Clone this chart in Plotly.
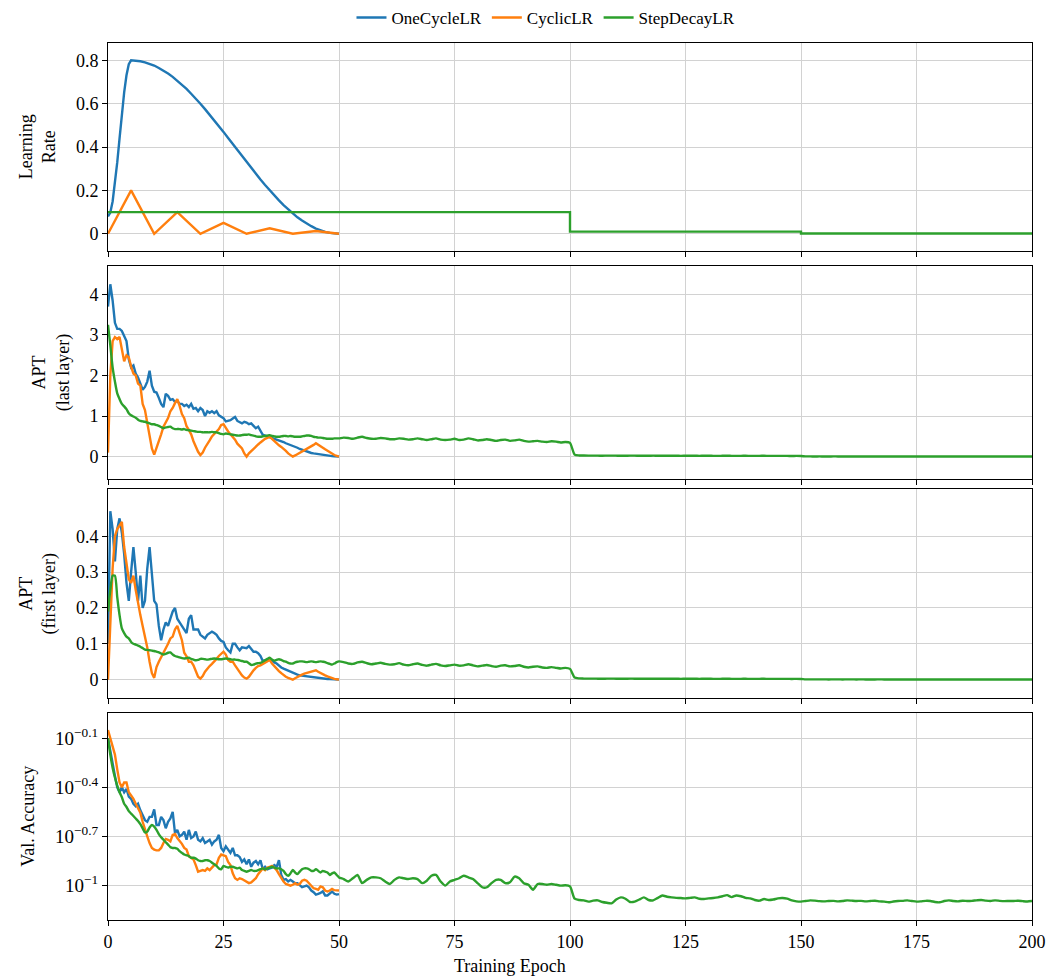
import plotly.graph_objects as go
from plotly.subplots import make_subplots

# ---------------------------------------------------------------- data
# Epoch grids: half-epoch samples for the first 50 epochs, whole epochs afterwards
half_epochs = [i * 0.5 for i in range(101)]
late_start = 51

# Learning-rate schedules
onecycle_epochs = [0, 0.5, 1, 1.5, 2, 2.5, 3, 3.5, 4, 4.5] + list(range(5, 51))
onecycle_lr = [
    0.08, 0.098, 0.149, 0.228, 0.329, 0.44, 0.551, 0.652, 0.731, 0.782,
    0.8, 0.799, 0.796, 0.791, 0.785, 0.776, 0.765, 0.753, 0.739, 0.724,
    0.706, 0.688, 0.668, 0.646, 0.624, 0.6, 0.575, 0.55, 0.524, 0.497,
    0.47, 0.442, 0.414, 0.386, 0.358, 0.331, 0.303, 0.276, 0.25, 0.225,
    0.2, 0.176, 0.154, 0.132, 0.112, 0.094, 0.076, 0.061, 0.047, 0.035,
    0.024, 0.016, 0.009, 0.004, 0.001, 0.0,
]
cyclic_epochs = [0, 5, 10, 15, 20, 25, 30, 35, 40, 45, 50]
cyclic_lr = [0.0, 0.2, 0.0, 0.1, 0.0, 0.05, 0.0, 0.025, 0.0, 0.0125, 0.0]
step_epochs = [0, 100, 100, 150, 150, 200]
step_lr = [0.1, 0.1, 0.01, 0.01, 0.001, 0.001]

# APT (last layer)
apt_last_onecycle = [
    3.7, 4.25, 3.85, 3.3, 3.15, 3.15, 3.1, 2.95, 2.85, 2.4,
    2.2, 2.25, 2.05, 1.95, 1.78, 1.65, 1.72, 1.85, 2.12, 1.75,
    1.6, 1.58, 1.45, 1.3, 1.22, 1.55, 1.5, 1.4, 1.42, 1.35,
    1.38, 1.3, 1.3, 1.25, 1.28, 1.22, 1.3, 1.18, 1.2, 1.12,
    1.2, 1.15, 1.0, 1.12, 1.08, 1.12, 1.07, 1.12, 1.02, 0.98,
    0.95, 0.87, 0.88, 0.9, 0.94, 0.98, 0.88, 0.85, 0.82, 0.86,
    0.84, 0.8, 0.82, 0.76, 0.7, 0.74, 0.62, 0.54, 0.52, 0.5,
    0.49, 0.47, 0.45, 0.43, 0.41, 0.39, 0.36, 0.33, 0.31, 0.29,
    0.27, 0.25, 0.22, 0.19, 0.17, 0.14, 0.12, 0.11, 0.09, 0.08,
    0.07, 0.06, 0.05, 0.04, 0.03, 0.025, 0.02, 0.012, 0.008, 0.004,
    0.0,
]
apt_last_cyclic = [
    0.1, 2.0, 2.85, 2.95, 2.9, 2.95, 2.65, 2.35, 2.5, 2.45,
    2.22, 2.05, 2.0, 1.8, 1.75, 1.3, 1.15, 0.86, 0.55, 0.2,
    0.05, 0.2, 0.38, 0.55, 0.74, 0.85, 0.95, 1.12, 1.2, 1.32,
    1.42, 1.25, 1.05, 0.95, 0.75, 0.66, 0.55, 0.38, 0.25, 0.12,
    0.04, 0.1, 0.22, 0.3, 0.4, 0.5, 0.55, 0.62, 0.68, 0.78,
    0.8, 0.7, 0.62, 0.55, 0.48, 0.42, 0.32, 0.25, 0.2, 0.08,
    0.0, 0.08, 0.14, 0.2, 0.25, 0.3, 0.35, 0.4, 0.44, 0.46,
    0.49, 0.44, 0.38, 0.33, 0.28, 0.24, 0.2, 0.14, 0.08, 0.03,
    0.0, 0.03, 0.06, 0.09, 0.12, 0.15, 0.18, 0.21, 0.25, 0.29,
    0.33, 0.3, 0.26, 0.22, 0.18, 0.14, 0.1, 0.07, 0.04, 0.02,
    0.0,
]
apt_last_step_early = [
    3.25, 2.75, 2.2, 1.85, 1.56, 1.42, 1.3, 1.24, 1.17, 1.07,
    1.02, 0.99, 0.96, 0.91, 0.88, 0.87, 0.86, 0.84, 0.82, 0.8,
    0.8, 0.78, 0.76, 0.73, 0.7, 0.72, 0.73, 0.74, 0.7, 0.68,
    0.68, 0.68, 0.67, 0.68, 0.66, 0.65, 0.64, 0.63, 0.62, 0.61,
    0.61, 0.6, 0.6, 0.6, 0.6, 0.61, 0.6, 0.6, 0.58, 0.56,
    0.55, 0.57, 0.56, 0.55, 0.54, 0.53, 0.52, 0.52, 0.53, 0.54,
    0.54, 0.55, 0.53, 0.52, 0.5, 0.49, 0.49, 0.5, 0.51, 0.52,
    0.53, 0.51, 0.5, 0.49, 0.49, 0.5, 0.51, 0.51, 0.5, 0.51,
    0.5, 0.49, 0.49, 0.49, 0.5, 0.51, 0.52, 0.52, 0.51, 0.49,
    0.48, 0.47, 0.47, 0.46, 0.45, 0.44, 0.44, 0.44, 0.45, 0.45,
    0.45,
]
apt_last_step_late = [
    0.47, 0.46, 0.44, 0.47, 0.49, 0.46, 0.44, 0.44, 0.46, 0.45,
    0.43, 0.43, 0.45, 0.44, 0.42, 0.43, 0.45, 0.43, 0.41, 0.43,
    0.45, 0.42, 0.41, 0.42, 0.44, 0.41, 0.42, 0.45, 0.43, 0.4,
    0.41, 0.43, 0.41, 0.39, 0.41, 0.42, 0.39, 0.4, 0.42, 0.39,
    0.37, 0.38, 0.39, 0.37, 0.36, 0.38, 0.37, 0.35, 0.36, 0.34,
    0.05, 0.03, 0.027, 0.025, 0.026, 0.024, 0.023, 0.025, 0.026, 0.024,
    0.022, 0.023, 0.025, 0.024, 0.022, 0.021, 0.023, 0.024, 0.022, 0.021,
    0.022, 0.023, 0.021, 0.02, 0.022, 0.023, 0.021, 0.02, 0.021, 0.022,
    0.02, 0.019, 0.021, 0.022, 0.02, 0.019, 0.02, 0.021, 0.019, 0.018,
    0.02, 0.021, 0.019, 0.018, 0.019, 0.02, 0.018, 0.017, 0.018, 0.016,
    0.007, 0.006, 0.005, 0.006, 0.005, 0.005, 0.006, 0.005, 0.004, 0.005,
    0.005, 0.004, 0.005, 0.005, 0.004, 0.004, 0.005, 0.004, 0.004, 0.005,
    0.004, 0.004, 0.003, 0.004, 0.004, 0.003, 0.004, 0.004, 0.003, 0.003,
    0.004, 0.003, 0.003, 0.004, 0.003, 0.003, 0.003, 0.004, 0.003, 0.003,
    0.003, 0.003, 0.002, 0.003, 0.003, 0.002, 0.003, 0.003, 0.002, 0.003,
]

# APT (first layer)
apt_first_onecycle = [
    0.1, 0.47, 0.42, 0.33, 0.42, 0.45, 0.41, 0.35, 0.27, 0.22,
    0.3, 0.37, 0.3, 0.22, 0.29, 0.2, 0.22, 0.31, 0.37, 0.3,
    0.22, 0.21, 0.15, 0.11, 0.14, 0.16, 0.15, 0.17, 0.19, 0.2,
    0.17, 0.16, 0.15, 0.14, 0.13, 0.17, 0.18, 0.14, 0.14, 0.14,
    0.125, 0.12, 0.115, 0.125, 0.13, 0.134, 0.13, 0.125, 0.115, 0.108,
    0.105, 0.09, 0.082, 0.076, 0.1, 0.1, 0.09, 0.082, 0.09, 0.088,
    0.088, 0.094, 0.085, 0.078, 0.078, 0.074, 0.066, 0.052, 0.054, 0.056,
    0.058, 0.054, 0.048, 0.045, 0.038, 0.034, 0.031, 0.028, 0.025, 0.021,
    0.018, 0.016, 0.014, 0.012, 0.011, 0.01, 0.009, 0.008, 0.007, 0.006,
    0.005, 0.005, 0.004, 0.003, 0.003, 0.002, 0.002, 0.001, 0.001, 0.0005,
    0.0,
]
apt_first_cyclic = [
    0.0, 0.15, 0.31, 0.4, 0.42, 0.43, 0.44, 0.37, 0.33, 0.28,
    0.27, 0.29, 0.25, 0.21, 0.18, 0.15, 0.12, 0.09, 0.05, 0.018,
    0.005, 0.035, 0.05, 0.062, 0.078, 0.088, 0.1, 0.115, 0.12, 0.14,
    0.15, 0.13, 0.11, 0.075, 0.065, 0.05, 0.05, 0.04, 0.022, 0.008,
    0.003, 0.01, 0.022, 0.031, 0.038, 0.044, 0.05, 0.058, 0.066, 0.072,
    0.078, 0.07, 0.055, 0.05, 0.05, 0.04, 0.03, 0.02, 0.012, 0.006,
    0.003, 0.008, 0.018, 0.026, 0.033, 0.038, 0.04, 0.044, 0.048, 0.052,
    0.055, 0.045, 0.037, 0.03, 0.024, 0.018, 0.012, 0.008, 0.005, 0.002,
    0.0, 0.004, 0.008, 0.011, 0.014, 0.017, 0.019, 0.021, 0.023, 0.025,
    0.026, 0.022, 0.018, 0.015, 0.012, 0.009, 0.006, 0.004, 0.002, 0.001,
    0.0,
]
apt_first_step_early = [
    0.19, 0.25, 0.29, 0.29, 0.23, 0.18, 0.143, 0.13, 0.12, 0.115,
    0.105, 0.1, 0.098, 0.095, 0.092, 0.088, 0.084, 0.083, 0.082, 0.081,
    0.08, 0.078, 0.076, 0.073, 0.07, 0.072, 0.075, 0.076, 0.07, 0.066,
    0.064, 0.062, 0.06, 0.059, 0.06, 0.061, 0.058, 0.056, 0.054, 0.055,
    0.058, 0.058, 0.057, 0.056, 0.057, 0.058, 0.059, 0.058, 0.057, 0.057,
    0.058, 0.059, 0.058, 0.057, 0.056, 0.056, 0.055, 0.054, 0.052, 0.05,
    0.05, 0.046, 0.041, 0.042, 0.045, 0.046, 0.047, 0.05, 0.054, 0.058,
    0.061, 0.056, 0.053, 0.055, 0.057, 0.055, 0.052, 0.05, 0.047, 0.045,
    0.045, 0.048, 0.05, 0.051, 0.051, 0.05, 0.049, 0.05, 0.051, 0.05,
    0.049, 0.05, 0.051, 0.05, 0.049, 0.046, 0.044, 0.042, 0.045, 0.049,
    0.051,
]
apt_first_step_late = [
    0.049, 0.045, 0.044, 0.048, 0.05, 0.046, 0.043, 0.045, 0.047, 0.044,
    0.042, 0.043, 0.046, 0.042, 0.04, 0.043, 0.045, 0.041, 0.039, 0.042,
    0.044, 0.04, 0.038, 0.04, 0.042, 0.039, 0.04, 0.043, 0.04, 0.037,
    0.039, 0.041, 0.038, 0.036, 0.039, 0.04, 0.037, 0.038, 0.04, 0.036,
    0.034, 0.036, 0.037, 0.034, 0.033, 0.035, 0.033, 0.031, 0.033, 0.03,
    0.006, 0.0035, 0.003, 0.0028, 0.003, 0.0027, 0.0026, 0.0028, 0.0029, 0.0027,
    0.0025, 0.0026, 0.0028, 0.0027, 0.0025, 0.0024, 0.0026, 0.0027, 0.0025, 0.0024,
    0.0025, 0.0026, 0.0024, 0.0023, 0.0025, 0.0026, 0.0024, 0.0023, 0.0024, 0.0025,
    0.0023, 0.0022, 0.0024, 0.0025, 0.0023, 0.0022, 0.0023, 0.0024, 0.0022, 0.0021,
    0.0023, 0.0024, 0.0022, 0.0021, 0.0022, 0.0023, 0.0021, 0.002, 0.0021, 0.0019,
    0.0008, 0.0007, 0.0007, 0.0008, 0.0007, 0.0006, 0.0007, 0.0007, 0.0006, 0.0007,
    0.0007, 0.0006, 0.0007, 0.0006, 0.0006, 0.0006, 0.0007, 0.0006, 0.0006, 0.0006,
    0.0006, 0.0005, 0.0006, 0.0006, 0.0005, 0.0005, 0.0006, 0.0005, 0.0005, 0.0005,
    0.0005, 0.0005, 0.0004, 0.0005, 0.0005, 0.0004, 0.0005, 0.0005, 0.0004, 0.0004,
    0.0004, 0.0005, 0.0004, 0.0004, 0.0004, 0.0004, 0.0004, 0.0003, 0.0004, 0.0004,
]

# Validation accuracy, stored as log10 exponents
val_log_onecycle = [
    -0.10, -0.18, -0.27, -0.33, -0.40, -0.43, -0.40, -0.43, -0.41, -0.456,
    -0.47, -0.50, -0.515, -0.50, -0.54, -0.575, -0.60, -0.61, -0.58, -0.58,
    -0.535, -0.63, -0.63, -0.58, -0.60, -0.65, -0.61, -0.59, -0.55, -0.68,
    -0.66, -0.70, -0.69, -0.67, -0.72, -0.66, -0.71, -0.70, -0.67, -0.72,
    -0.73, -0.71, -0.74, -0.73, -0.72, -0.75, -0.73, -0.72, -0.69, -0.77,
    -0.79, -0.76, -0.78, -0.80, -0.77, -0.815, -0.815, -0.825, -0.855, -0.84,
    -0.87, -0.84, -0.885, -0.86, -0.85, -0.87, -0.845, -0.90, -0.885, -0.90,
    -0.895, -0.89, -0.875, -0.885, -0.845, -0.935, -0.965, -0.96, -0.975, -0.965,
    -0.975, -0.985, -0.985, -0.995, -1.01, -1.005, -1.0, -1.01, -1.03, -1.04,
    -1.055, -1.05, -1.045, -1.035, -1.06, -1.06, -1.045, -1.036, -1.05, -1.055,
    -1.052,
]
val_log_cyclic = [
    -0.05, -0.10, -0.15, -0.20, -0.29, -0.37, -0.40, -0.37, -0.37, -0.43,
    -0.45, -0.47, -0.50, -0.53, -0.555, -0.61, -0.66, -0.70, -0.74, -0.77,
    -0.78, -0.785, -0.785, -0.77, -0.74, -0.715, -0.72, -0.73, -0.69, -0.685,
    -0.71, -0.725, -0.745, -0.77, -0.78, -0.82, -0.83, -0.84, -0.875, -0.915,
    -0.91, -0.905, -0.91, -0.895, -0.905, -0.89, -0.875, -0.87, -0.83, -0.81,
    -0.815, -0.82, -0.855, -0.875, -0.925, -0.955, -0.965, -0.955, -0.96, -0.97,
    -0.975, -0.985, -0.98, -0.97, -0.955, -0.93, -0.915, -0.895, -0.905, -0.89,
    -0.885, -0.88, -0.89, -0.905, -0.93, -0.955, -0.975, -0.99, -0.995, -1.0,
    -0.995, -0.985, -0.995, -0.99, -0.97, -0.965, -0.97, -0.985, -1.0, -1.016,
    -1.02, -1.025, -1.005, -1.01, -1.03, -1.036, -1.03, -1.02, -1.028, -1.03,
    -1.03,
]
val_log_step_early = [
    -0.10, -0.20, -0.28, -0.34, -0.39, -0.43, -0.46, -0.50, -0.52, -0.545,
    -0.56, -0.575, -0.59, -0.605, -0.625, -0.65, -0.675, -0.67, -0.645, -0.63,
    -0.64, -0.66, -0.685, -0.705, -0.72, -0.735, -0.75, -0.765, -0.77, -0.77,
    -0.775, -0.79, -0.80, -0.81, -0.815, -0.82, -0.83, -0.83, -0.835, -0.845,
    -0.85, -0.85, -0.845, -0.845, -0.85, -0.86, -0.87, -0.88, -0.895, -0.90,
    -0.88, -0.885, -0.89, -0.885, -0.885, -0.89, -0.895, -0.89, -0.905, -0.91,
    -0.915, -0.91, -0.905, -0.91, -0.91, -0.905, -0.90, -0.895, -0.90, -0.895,
    -0.89, -0.885, -0.89, -0.895, -0.895, -0.90, -0.91, -0.93, -0.94, -0.925,
    -0.905, -0.92, -0.93, -0.915, -0.90, -0.895, -0.895, -0.90, -0.91, -0.91,
    -0.90, -0.91, -0.92, -0.91, -0.915, -0.92, -0.935, -0.925, -0.92, -0.935,
    -0.95,
]
val_log_step_late = [
    -0.96, -0.975, -0.955, -0.935, -0.985, -0.965, -0.95, -0.95, -0.955, -0.975,
    -0.99, -0.965, -0.95, -0.955, -0.96, -0.955, -0.96, -0.985, -0.97, -0.94,
    -0.935, -0.975, -1.0, -0.975, -0.965, -0.955, -0.94, -0.95, -0.96, -0.985,
    -1.01, -1.01, -0.985, -0.965, -0.965, -0.985, -0.98, -0.945, -0.955, -0.985,
    -0.995, -1.025, -0.99, -0.99, -0.995, -0.99, -0.995, -1.0, -0.998, -1.005,
    -1.08, -1.088, -1.09, -1.098, -1.092, -1.09, -1.1, -1.105, -1.108, -1.085,
    -1.072, -1.08, -1.1, -1.098, -1.085, -1.072, -1.088, -1.09, -1.075, -1.06,
    -1.068, -1.072, -1.075, -1.076, -1.078, -1.075, -1.072, -1.08, -1.082, -1.078,
    -1.076, -1.072, -1.065, -1.058, -1.07, -1.06, -1.065, -1.075, -1.078, -1.088,
    -1.092, -1.082, -1.088, -1.085, -1.078, -1.076, -1.08, -1.09, -1.096, -1.098,
    -1.094, -1.09, -1.092, -1.095, -1.096, -1.094, -1.093, -1.096, -1.094, -1.09,
    -1.092, -1.094, -1.093, -1.096, -1.094, -1.092, -1.096, -1.098, -1.102, -1.097,
    -1.094, -1.093, -1.09, -1.094, -1.098, -1.096, -1.093, -1.094, -1.1, -1.102,
    -1.094, -1.09, -1.094, -1.096, -1.092, -1.094, -1.093, -1.09, -1.088, -1.092,
    -1.094, -1.09, -1.093, -1.095, -1.094, -1.094, -1.092, -1.095, -1.097, -1.094,
]

# Axis tick labels
x_ticks = [0, 25, 50, 75, 100, 125, 150, 175, 200]
lr_ticks = [0, 0.2, 0.4, 0.6, 0.8]
lr_tick_text = ["0", "0.2", "0.4", "0.6", "0.8"]
apt_last_ticks = [0, 1, 2, 3, 4]
apt_first_ticks = [0, 0.1, 0.2, 0.3, 0.4]
apt_first_tick_text = ["0", "0.1", "0.2", "0.3", "0.4"]
val_tick_exps = [-1, -0.7, -0.4, -0.1]
val_tick_text = ["10<sup>\u22121</sup>", "10<sup>\u22120.7</sup>",
                 "10<sup>\u22120.4</sup>", "10<sup>\u22120.1</sup>"]

names = ["OneCycleLR", "CyclicLR", "StepDecayLR"]
colors = ["#1f77b4", "#ff7f0e", "#2ca02c"]


def full_x(late_values):
    return half_epochs + list(range(late_start, late_start + len(late_values)))


# ---------------------------------------------------------------- figure
FONT = "Liberation Serif"
fig = make_subplots(rows=4, cols=1, shared_xaxes=True, vertical_spacing=0.02)

lw = 2.4


def add(x, y, k, row, legend=False, smooth=False):
    line = dict(color=colors[k], width=lw)
    if smooth:
        line.update(shape="spline", smoothing=0.6)
    fig.add_trace(
        go.Scatter(x=x, y=y, mode="lines", name=names[k], line=line,
                   showlegend=legend, legendgroup=names[k]),
        row=row, col=1,
    )


# Row 1: learning rate
add(onecycle_epochs, onecycle_lr, 0, 1, True)
add(cyclic_epochs, cyclic_lr, 1, 1, True)
add(step_epochs, step_lr, 2, 1, True)

# Row 2: APT last layer
add(half_epochs, apt_last_onecycle, 0, 2)
add(half_epochs, apt_last_cyclic, 1, 2)
add(full_x(apt_last_step_late), apt_last_step_early + apt_last_step_late, 2, 2,
    smooth=True)

# Row 3: APT first layer
add(half_epochs, apt_first_onecycle, 0, 3)
add(half_epochs, apt_first_cyclic, 1, 3)
add(full_x(apt_first_step_late), apt_first_step_early + apt_first_step_late, 2, 3,
    smooth=True)

# Row 4: validation accuracy on a log axis
add(half_epochs, [10 ** v for v in val_log_onecycle], 0, 4)
add(half_epochs, [10 ** v for v in val_log_cyclic], 1, 4)
add(full_x(val_log_step_late),
    [10 ** v for v in val_log_step_early + val_log_step_late], 2, 4, smooth=True)

tick_font = dict(family=FONT, size=18, color="black")
grid = "#d2d2d2"

common_x = dict(range=[0, 200], tickvals=x_ticks, ticks="outside", ticklen=5,
                tickcolor="black", showgrid=True, gridcolor=grid, gridwidth=1,
                showline=True, linecolor="black", linewidth=1, mirror=True,
                zeroline=False, tickfont=tick_font)
for r in range(1, 5):
    fig.update_xaxes(common_x, row=r, col=1)
fig.update_xaxes(showticklabels=True, row=4, col=1)

common_y = dict(ticks="outside", ticklen=5, tickcolor="black", showgrid=True,
                gridcolor=grid, gridwidth=1, showline=True, linecolor="black",
                linewidth=1, mirror=True, zeroline=False, tickfont=tick_font,
                title_font=dict(family=FONT, size=18, color="black"))

fig.update_yaxes(common_y, row=1, col=1, range=[-0.078, 0.88], tickvals=lr_ticks,
                 ticktext=lr_tick_text, title_text="Learning<br>Rate",
                 domain=[0.7632, 1.0])
fig.update_yaxes(common_y, row=2, col=1, range=[-0.55, 4.70], tickvals=apt_last_ticks,
                 title_text="APT<br>(last layer)", domain=[0.5029, 0.7457])
fig.update_yaxes(common_y, row=3, col=1, range=[-0.052, 0.531], tickvals=apt_first_ticks,
                 ticktext=apt_first_tick_text, title_text="APT<br>(first layer)",
                 domain=[0.2528, 0.4911])
fig.update_yaxes(common_y, row=4, col=1, type="log", range=[-1.21, 0.056],
                 tickvals=[10 ** e for e in val_tick_exps], ticktext=val_tick_text,
                 tickfont=dict(family=FONT, size=19, color="black"),
                 title_text="Val. Accuracy", domain=[0.0, 0.2364])

fig.add_annotation(text="Training Epoch", xref="paper", yref="paper",
                   x=0.435, y=-0.0525, xanchor="center", yanchor="middle",
                   showarrow=False, font=dict(family=FONT, size=18, color="black"))

fig.update_layout(
    width=1052, height=980,
    margin=dict(l=108, r=20, t=43, b=60, autoexpand=False),
    paper_bgcolor="white", plot_bgcolor="white",
    font=dict(family=FONT, size=18, color="black"),
    legend=dict(orientation="h", xref="container", yref="container",
                x=0.519, xanchor="center", y=1.0, yanchor="top",
                font=dict(family=FONT, size=17, color="black"),
                itemwidth=30, tracegroupgap=0),
)

fig.write_html("out.html")
